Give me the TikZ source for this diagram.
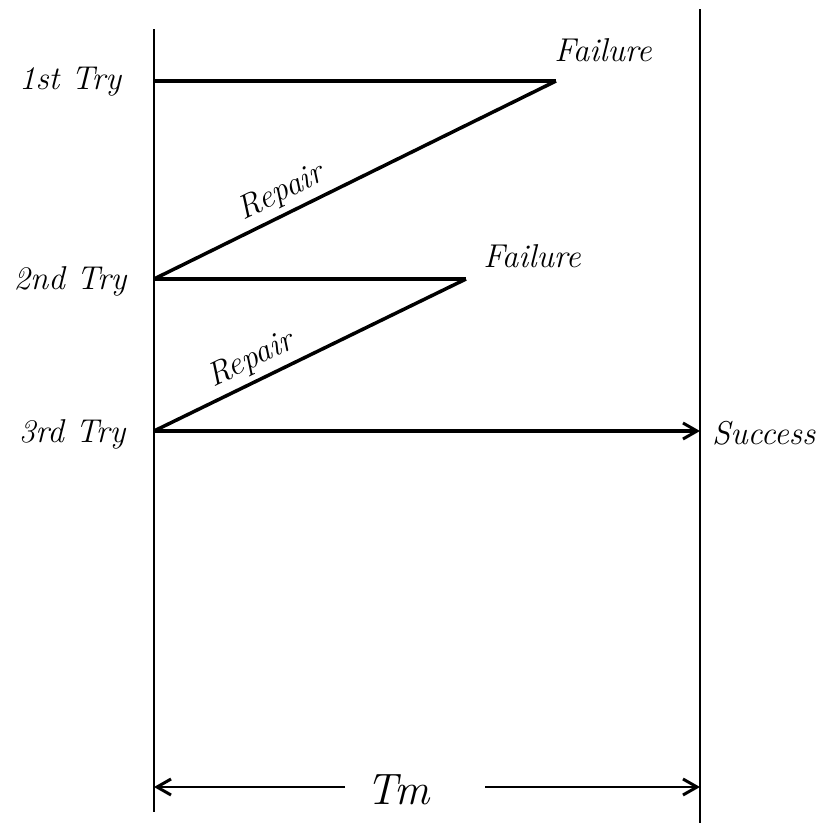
\documentclass[tikz,border=0pt]{standalone}
\usepackage{fontspec}
\usetikzlibrary{arrows.meta}
\begin{document}
\begin{tikzpicture}[x=1pt,y=-1pt,
  axis/.style={line width=2.5pt},
  seg/.style={line width=3.5pt},
  lbl/.style={font=\fontsize{33}{38}\selectfont\itshape, inner sep=1pt},
  tip/.style={-{Straight Barb[length=14pt,width=16pt,line width=3pt]}}]
\useasboundingbox (0,0) rectangle (817,823);
% vertical lines
\coordinate (Ltop) at (154,29);
\coordinate (Lbot) at (154,812);
\coordinate (Rtop) at (700,9);
\coordinate (Rbot) at (700,823);
\draw[axis] (Ltop) -- (Lbot);
\draw[axis] (Rtop) -- (Rbot);
% tries
\coordinate (t1) at (154,81);
\coordinate (f1) at (556,81);
\coordinate (t2) at (154,279);
\coordinate (f2) at (466,279);
\coordinate (t3) at (154,431);
\coordinate (s3) at (700,431);
\node[lbl] (try1) at (70,82) {1st Try};
\node[lbl] (try2) at (70,281) {2nd Try};
\node[lbl] (try3) at (72,434) {3rd Try};
\node[lbl] (fail1) at (603,50) {Failure};
\node[lbl] (fail2) at (532,256) {Failure};
\node[lbl,anchor=west] (succ) at (711,433) {Success};
\draw[seg] (t1) -- (f1);
\draw[seg] (f1) -- node[lbl,sloped,above=4pt,pos=0.66] (rep1) {Repair} (t2);
\draw[seg] (t2) -- (f2);
\draw[seg] (f2) -- node[lbl,sloped,above=4pt,pos=0.66] (rep2) {Repair} (t3);
\draw[seg,tip] (t3) -- (s3);
% Tm
\coordinate (mL) at (154,787);
\coordinate (mR) at (700,787);
\coordinate (mLs) at (345,787);
\coordinate (mRs) at (485,787);
\node[lbl,font=\fontsize{44}{50}\selectfont\itshape] (tm) at (398,790) {Tm};
\draw[axis,tip] (mLs) -- (mL);
\draw[axis,tip] (mRs) -- (mR);
\end{tikzpicture}
\end{document}
